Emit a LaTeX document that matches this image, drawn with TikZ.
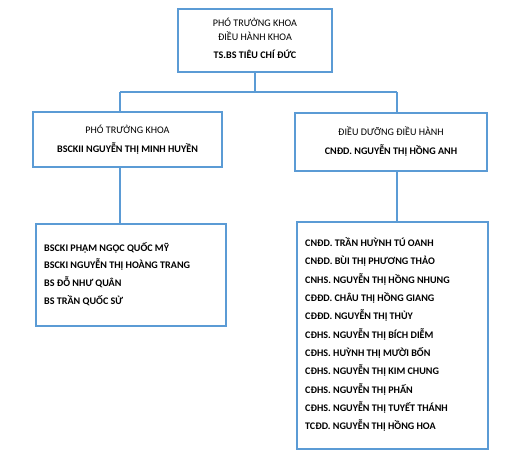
\documentclass[tikz,border=0pt]{standalone}
\usepackage{fontspec}
\setmainfont{Carlito}
\definecolor{lineblue}{RGB}{91,155,213}
\begin{document}
\begin{tikzpicture}[x=1pt,y=-1pt,
  box/.style={draw=lineblue,line width=1.4pt,fill=white,inner sep=0pt,rectangle},
  conn/.style={draw=lineblue,line width=1.6pt},
  txt/.style={inner sep=0pt,font=\fontsize{10.1}{12}\selectfont,text=black},
  btxt/.style={txt,font=\fontsize{10.1}{12}\selectfont\bfseries}]
\useasboundingbox[fill=white] (0,0) rectangle (525,456);
% boxes
\node[box,minimum width=154pt,minimum height=63pt] (top) at (255,40.5) {};
\node[box,minimum width=189pt,minimum height=55pt] (pl) at (127.5,139.5) {};
\node[box,minimum width=192pt,minimum height=58pt] (dd) at (391,142) {};
\node[box,minimum width=190pt,minimum height=102pt] (ll) at (131,275) {};
\node[box,minimum width=191pt,minimum height=227pt] (lr) at (392.5,335.5) {};
% connectors
\coordinate (bL) at (120,92);
\coordinate (bR) at (397,92);
\draw[conn] (top.south) -- (top.south |- bL);
\draw[conn] (bL) -- (bR);
\draw[conn] (bL) -- (bL |- pl.north);
\draw[conn] (bR) -- (bR |- dd.north);
\draw[conn] (bL |- pl.south) -- (bL |- ll.north);
\draw[conn] (bR |- dd.south) -- (bR |- lr.north);
% top text
\node[txt,anchor=base] (t1) at (255,26) {PHÓ TRƯỞNG KHOA};
\node[txt,anchor=base] (t2) at (255,40.6) {ĐIỀU HÀNH KHOA};
\node[btxt,anchor=base] (t3) at (255,58.3) {TS.BS TIÊU CHÍ ĐỨC};
% left text
\node[txt,anchor=base] (p1) at (127.5,133.3) {PHÓ TRƯỞNG KHOA};
\node[btxt,anchor=base] (p2) at (127.5,152.3) {BSCKII NGUYỄN THỊ MINH HUYỀN};
% right text
\node[txt,anchor=base] (d1) at (391,135.3) {ĐIỀU DƯỠNG ĐIỀU HÀNH};
\node[btxt,anchor=base] (d2) at (391,154.3) {CNĐD. NGUYỄN THỊ HỒNG ANH};
% lower left list
\foreach \s [count=\i] in {BSCKI PHẠM NGỌC QUỐC MỸ,BSCKI NGUYỄN THỊ HOÀNG TRANG,BS ĐỖ NHƯ QUÂN,BS TRẦN QUỐC SỬ}
  \node[btxt,anchor=base west] (l\i) at (44,251+17.7*\i-17.7) {\s};
% lower right list
\foreach \s [count=\i] in {CNĐD. TRẦN HUỲNH TÚ OANH,CNĐD. BÙI THỊ PHƯƠNG THẢO,CNHS. NGUYỄN THỊ HỒNG NHUNG,CĐĐD. CHÂU THỊ HỒNG GIANG,CĐĐD. NGUYỄN THỊ THỦY,CĐHS. NGUYỄN THỊ BÍCH DIỄM,CĐHS. HUỲNH THỊ MƯỜI BỐN,CĐHS. NGUYỄN THỊ KIM CHUNG,CĐHS. NGUYỄN THỊ PHẤN,CĐHS. NGUYỄN THỊ TUYẾT THÁNH,TCĐD. NGUYỄN THỊ HỒNG HOA}
  \node[btxt,anchor=base west] (r\i) at (305,246.6+18.33*\i-18.33) {\s};
\end{tikzpicture}
\end{document}
